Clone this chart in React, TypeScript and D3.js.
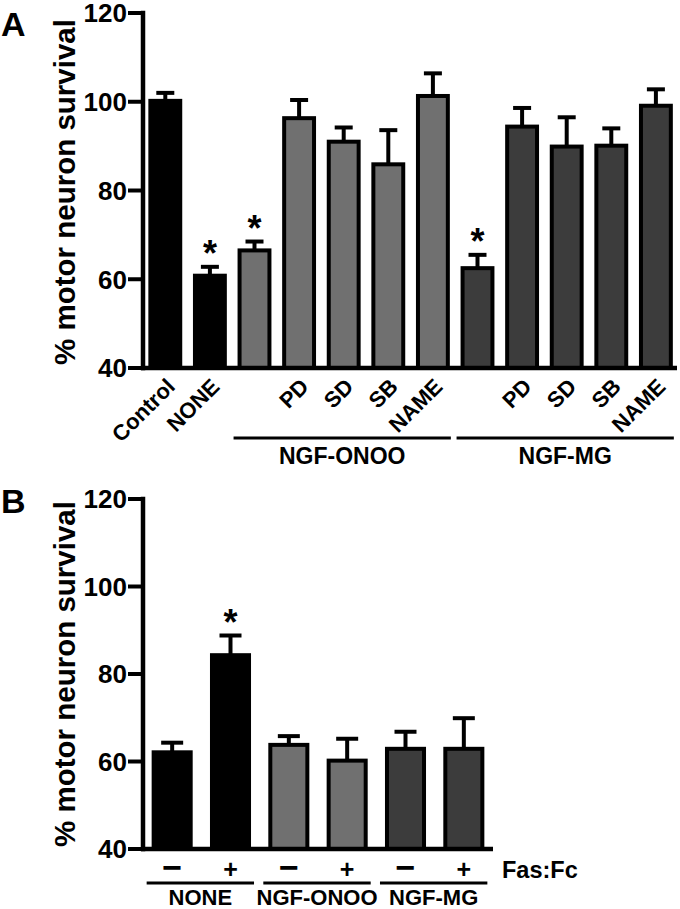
import React from "react";
import * as d3 from "d3";

// ---------- Panel A data ----------
const labelsA = ["Control", "NONE", "", "PD", "SD", "SB", "NAME", "", "PD", "SD", "SB", "NAME"];
const valuesA = [100.2, 60.8, 66.5, 96.3, 91.0, 85.9, 101.3, 62.5, 94.4, 89.9, 90.1, 99.1];
const errorsA = [1.8, 2.0, 2.0, 4.1, 3.2, 7.7, 5.1, 3.0, 4.2, 6.6, 3.9, 3.7];
const groupOfA = ["black", "black", "onoo", "onoo", "onoo", "onoo", "onoo", "mg", "mg", "mg", "mg", "mg"];
const sigA = [false, true, true, false, false, false, false, true, false, false, false, false];
const bracketsA = [
  { label: "NGF-ONOO", from: 2, to: 6 },
  { label: "NGF-MG", from: 7, to: 11 },
];

// ---------- Panel B data ----------
const signsB = ["\u2212", "+", "\u2212", "+", "\u2212", "+"];
const valuesB = [62.1, 84.3, 63.8, 60.2, 62.9, 62.9];
const errorsB = [2.2, 4.5, 2.0, 5.0, 3.9, 7.0];
const groupOfB = ["black", "black", "onoo", "onoo", "mg", "mg"];
const sigB = [false, true, false, false, false, false];
const bracketsB = [
  { label: "NONE", from: 0, to: 1 },
  { label: "NGF-ONOO", from: 2, to: 3 },
  { label: "NGF-MG", from: 4, to: 5 },
];

const yTicks = [40, 60, 80, 100, 120];
const yLabel = "% motor neuron survival";

const colors: Record<string, string> = { black: "#000000", onoo: "#707070", mg: "#3c3c3c" };
const FONT = "'Liberation Sans', Arial, Helvetica, sans-serif";

function YAxis({ y, x0, labelY }: { y: d3.ScaleLinear<number, number>; x0: number; labelY: number }) {
  return (
    <g>
      <line x1={x0} x2={x0} y1={y(120) - 2.2} y2={y(40) + 2.2} stroke="#000" strokeWidth={4.5} />
      {yTicks.map((t) => (
        <g key={t}>
          <line x1={x0 - 15} x2={x0} y1={y(t)} y2={y(t)} stroke="#000" strokeWidth={4} />
          <text x={x0 - 16} y={y(t)} dy="0.36em" textAnchor="end" fontSize={26} fontWeight="bold" fontFamily={FONT}>
            {t}
          </text>
        </g>
      ))}
      <text
        transform={`translate(75,${labelY}) rotate(-90)`}
        textAnchor="middle"
        fontSize={29.5}
        fontWeight="bold"
        fontFamily={FONT}
      >
        {yLabel}
      </text>
    </g>
  );
}

function Bars({
  x, y, values, errors, groups, sig, capW,
}: {
  x: d3.ScaleBand<number>; y: d3.ScaleLinear<number, number>; values: number[]; errors: number[];
  groups: string[]; sig: boolean[]; capW: number;
}) {
  const bw = x.bandwidth();
  return (
    <g>
      {values.map((v, i) => {
        const x0 = x(i) as number;
        const cx = x0 + bw / 2;
        const top = y(v);
        const eTop = y(v + errors[i]);
        return (
          <g key={i}>
            <line x1={cx} x2={cx} y1={top} y2={eTop} stroke="#000" strokeWidth={4} />
            <line x1={cx - capW / 2} x2={cx + capW / 2} y1={eTop} y2={eTop} stroke="#000" strokeWidth={4} />
            <rect x={x0} y={top} width={bw} height={y(40) - top} fill={colors[groups[i]]} stroke="#000" strokeWidth={4} />
            {sig[i] && (
              <text x={cx} y={eTop - 1} textAnchor="middle" fontSize={36} fontWeight="bold" fontFamily={FONT}>
                *
              </text>
            )}
          </g>
        );
      })}
    </g>
  );
}

export default function App() {
  const axisX = 143;
  // Panel A scales
  const xA = d3.scaleBand<number>().domain(d3.range(labelsA.length)).range([axisX, axisX + 12 * 44.6]).paddingInner(0.33).paddingOuter(0.165);
  const yA = d3.scaleLinear().domain([40, 120]).range([368, 13]);
  // Panel B scales
  const xB = d3.scaleBand<number>().domain(d3.range(valuesB.length)).range([axisX, 493]).paddingInner(0.365).paddingOuter(0.1825);
  const yB = d3.scaleLinear().domain([40, 120]).range([849, 499]);
  const bwA = xA.bandwidth();
  const bwB = xB.bandwidth();

  return (
    <svg width={680} height={909} style={{ position: "absolute", left: 0, top: 0, display: "block", background: "#fff" }}>
      <rect width={680} height={909} fill="#fff" />
      {/* Panel A */}
      <text x={1} y={36} fontSize={34} fontWeight="bold" fontFamily={FONT}>A</text>
      <Bars x={xA} y={yA} values={valuesA} errors={errorsA} groups={groupOfA} sig={sigA} capW={18} />
      <YAxis y={yA} x0={axisX} labelY={192} />
      <line x1={axisX - 2} x2={677} y1={yA(40)} y2={yA(40)} stroke="#000" strokeWidth={4.5} />
      {labelsA.map((l, i) => {
        const cx = (xA(i) as number) + bwA / 2;
        return l ? (
          <text key={i} transform={`translate(${cx + 11},${388}) rotate(-45)`} textAnchor="end" fontSize={22} fontWeight="bold" fontFamily={FONT}>
            {l}
          </text>
        ) : null;
      })}
      {bracketsA.map((b) => {
        const x1 = (xA(b.from) as number) - 6;
        const x2 = (xA(b.to) as number) + bwA + 3;
        return (
          <g key={b.label}>
            <line x1={x1} x2={x2} y1={438} y2={438} stroke="#000" strokeWidth={3} />
            <text x={(x1 + x2) / 2} y={464} textAnchor="middle" fontSize={23} fontWeight="bold" fontFamily={FONT}>
              {b.label}
            </text>
          </g>
        );
      })}

      {/* Panel B */}
      <text x={1} y={513} fontSize={34} fontWeight="bold" fontFamily={FONT}>B</text>
      <Bars x={xB} y={yB} values={valuesB} errors={errorsB} groups={groupOfB} sig={sigB} capW={22} />
      <YAxis y={yB} x0={axisX} labelY={674} />
      <line x1={axisX - 2} x2={493} y1={yB(40)} y2={yB(40)} stroke="#000" strokeWidth={4.5} />
      {signsB.map((s, i) => {
        const cx = (xB(i) as number) + bwB / 2;
        return (
          <text key={i} x={cx} y={s === "+" ? 878 : 879} textAnchor="middle" fontSize={s === "+" ? 25 : 34} fontWeight="bold" fontFamily={FONT}>
            {s}
          </text>
        );
      })}
      <text x={502} y={878} fontSize={23.5} fontWeight="bold" fontFamily={FONT}>Fas:Fc</text>
      {bracketsB.map((b) => {
        const x1 = (xB(b.from) as number) - 7;
        const x2 = (xB(b.to) as number) + bwB + 5;
        return (
          <g key={b.label}>
            <line x1={x1} x2={x2} y1={883} y2={883} stroke="#000" strokeWidth={3} />
            <text x={(x1 + x2) / 2} y={905} textAnchor="middle" fontSize={22} fontWeight="bold" fontFamily={FONT}>
              {b.label}
            </text>
          </g>
        );
      })}
    </svg>
  );
}
